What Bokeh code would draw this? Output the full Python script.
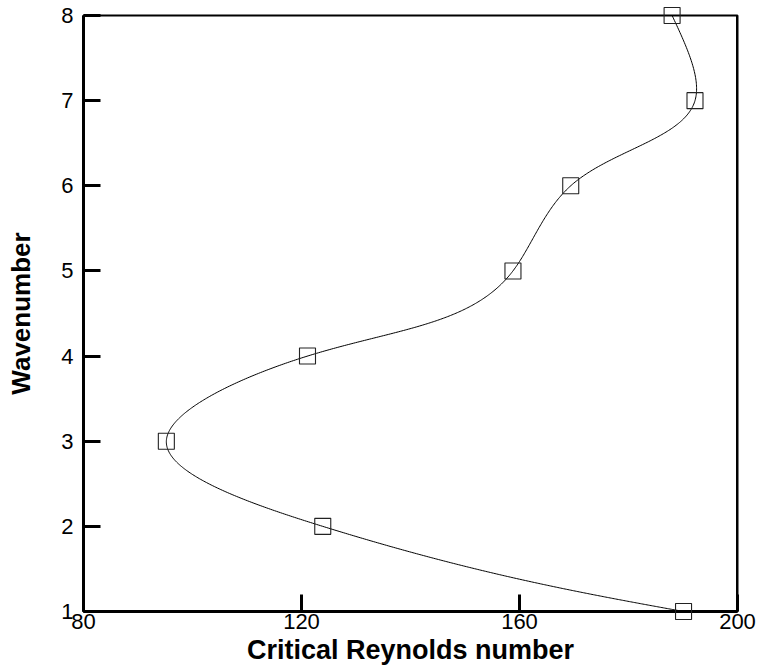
import numpy as np
from bokeh.plotting import figure
from bokeh.models import Range1d, FixedTicker, Span
from bokeh.embed import file_html
from bokeh.resources import INLINE

# Data
wavenumber = [1, 2, 3, 4, 5, 6, 7, 8]
critical_reynolds = [190.1, 123.9, 95.2, 121.1, 158.8, 169.4, 192.2, 188.0]
x_ticks = [80, 120, 160, 200]
y_ticks = [1, 2, 3, 4, 5, 6, 7, 8]
x_title = "Critical Reynolds number"
y_title = "Wavenumber"

X_RANGE = (80, 200)
Y_RANGE = (1, 8)


def natural_spline_coeffs(t, v):
    n = len(t)
    h = np.diff(t)
    A = np.zeros((n, n))
    b = np.zeros(n)
    A[0, 0] = 1.0
    A[-1, -1] = 1.0
    for i in range(1, n - 1):
        A[i, i - 1] = h[i - 1]
        A[i, i] = 2 * (h[i - 1] + h[i])
        A[i, i + 1] = h[i]
        b[i] = 6 * ((v[i + 1] - v[i]) / h[i] - (v[i] - v[i - 1]) / h[i - 1])
    return np.linalg.solve(A, b)


def eval_spline(t, v, M, tt):
    n = len(t)
    h = np.diff(t)
    out = np.empty_like(tt)
    for k, x in enumerate(tt):
        i = min(max(np.searchsorted(t, x) - 1, 0), n - 2)
        hi = h[i]
        a = t[i + 1] - x
        c = x - t[i]
        out[k] = (M[i] * a ** 3 / (6 * hi) + M[i + 1] * c ** 3 / (6 * hi)
                  + (v[i] / hi - M[i] * hi / 6) * a + (v[i + 1] / hi - M[i + 1] * hi / 6) * c)
    return out


def parametric_spline(xs, ys, n=800):
    xs = np.asarray(xs, float)
    ys = np.asarray(ys, float)
    # chord-length parameter measured in the frame's aspect
    u = (xs - X_RANGE[0]) / (X_RANGE[1] - X_RANGE[0]) * 654.0
    w = (ys - Y_RANGE[0]) / (Y_RANGE[1] - Y_RANGE[0]) * 596.0
    d = np.hypot(np.diff(u), np.diff(w))
    s = np.concatenate([[0.0], np.cumsum(d)])
    Mx = natural_spline_coeffs(s, xs)
    My = natural_spline_coeffs(s, ys)
    ss = np.linspace(0, s[-1], n)
    return eval_spline(s, xs, Mx, ss), eval_spline(s, ys, My, ss)


xx, yy = parametric_spline(critical_reynolds, wavenumber)

p = figure(width=760, height=672, x_range=Range1d(*X_RANGE), y_range=Range1d(*Y_RANGE),
           output_backend="svg", toolbar_location=None,
           min_border_left=83, min_border_right=23, min_border_top=15, min_border_bottom=61)
p.background_fill_color = "white"
p.border_fill_color = "white"
p.grid.visible = False
p.outline_line_color = "black"
p.outline_line_width = 2

p.line(xx, yy, line_color="black", line_width=1)
p.scatter(critical_reynolds, wavenumber, marker="square", size=16,
          fill_alpha=0, line_color="#222222", line_width=1.1, level="overlay")

p.add_layout(Span(location=200, dimension="height", line_color="black", line_width=3))

p.xaxis.ticker = FixedTicker(ticks=x_ticks)
p.yaxis.ticker = FixedTicker(ticks=y_ticks)
p.xaxis.axis_label = x_title
p.yaxis.axis_label = y_title

for ax in (p.xaxis, p.yaxis):
    ax.axis_line_width = 3
    ax.axis_line_color = "black"
    ax.major_tick_in = 17
    ax.major_tick_out = 0
    ax.major_tick_line_width = 3
    ax.major_tick_line_color = "black"
    ax.minor_tick_in = 0
    ax.minor_tick_out = 0
    ax.major_label_text_font = "Liberation Sans"
    ax.major_label_text_font_size = "22px"
    ax.major_label_text_color = "black"
    ax.axis_label_text_font = "Liberation Sans"
    ax.axis_label_text_font_style = "bold"
    ax.axis_label_text_color = "black"

p.xaxis.axis_label_text_font_size = "27px"
p.yaxis.axis_label_text_font_size = "26px"
p.xaxis.major_label_standoff = 2
p.xaxis.axis_label_standoff = 3
p.yaxis.major_label_standoff = 10
p.yaxis.axis_label_standoff = 22

open("out.html", "w").write(file_html(p, INLINE))
